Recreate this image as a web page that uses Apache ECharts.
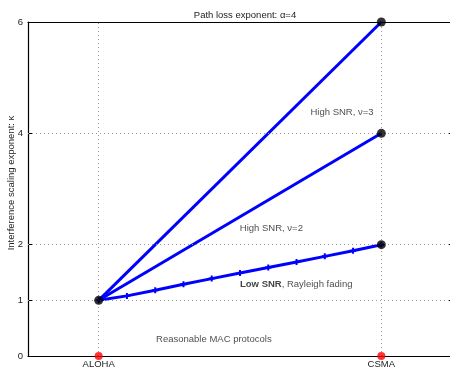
<!DOCTYPE html>
<html><head><meta charset="utf-8">
<script src="https://cdn.jsdelivr.net/npm/echarts@6/dist/echarts.min.js"></script>
<style>html,body{margin:0;padding:0;background:#fff}#c{width:450px;height:369px}</style>
</head><body><div id="c"></div>
<script>
// ---- data ----
const protocols = ['ALOHA', 'CSMA'];
const protocolX = [1, 2];
const yTickValues = [0, 1, 2, 4, 6];
const lineToSix = [[1, 1], [2, 6]];
const lineToFour = [[1, 1], [2, 4]];
const lowSnrX = [1, 1.1, 1.2, 1.3, 1.4, 1.5, 1.6, 1.7, 1.8, 1.9, 2];
const lowSnrY = [1, 1.08, 1.18, 1.29, 1.39, 1.49, 1.59, 1.69, 1.79, 1.89, 2];
const endDots = [[1, 1], [2, 2], [2, 4], [2, 6]];
const macDots = [[1, 0], [2, 0]];
const titleText = 'Path loss exponent: α=4';
const yName = 'Interference scaling exponent: κ';

const FONT = 'Liberation Sans, Arial, Helvetica, sans-serif';
const FS = 9.5;
const chart = echarts.init(document.getElementById('c'), null, {renderer: 'canvas'});
const gridStyle = {color: '#9a9a9a', width: 1, type: [1, 3]};

const option = {
  animation: false,
  backgroundColor: '#fff',
  textStyle: {fontFamily: FONT},
  title: {
    text: titleText, left: 240, top: 5, textAlign: 'center',
    textStyle: {fontSize: FS, fontWeight: 'normal', color: '#222', fontFamily: FONT}
  },
  grid: {left: 28, right: -2, top: 22, bottom: 13, containLabel: false, outerBoundsMode: 'none'},
  xAxis: [{
    type: 'value', min: 0.75, max: 2.25, interval: 0.25, position: 'bottom',
    axisLine: {show: true, onZero: false, lineStyle: {color: '#000', width: 1.2}},
    axisTick: {show: false},
    splitLine: {show: false},
    axisLabel: {
      margin: 3, fontSize: FS, color: '#222', fontFamily: FONT,
      formatter: v => { const i = protocolX.indexOf(v); return i >= 0 ? protocols[i] : ''; }
    }
  }, {
    type: 'value', min: 0.75, max: 2.25, interval: 0.25, position: 'top',
    axisLine: {show: true, onZero: false, lineStyle: {color: '#000', width: 1.2}},
    axisTick: {show: false}, axisLabel: {show: false}, splitLine: {show: false}
  }],
  yAxis: [{
    type: 'value', min: 0, max: 6, interval: 1, position: 'left',
    name: yName, nameLocation: 'middle', nameGap: 12, nameMoveOverlap: false,
    nameTextStyle: {fontSize: FS, color: '#222', fontFamily: FONT, padding: [0, 0, 0, 12]},
    axisLine: {show: true, onZero: false, lineStyle: {color: '#000', width: 1.2}},
    axisTick: {show: true, inside: true, length: 4, customValues: yTickValues, lineStyle: {color: '#000'}},
    axisLabel: {margin: 5, fontSize: FS, color: '#222', fontFamily: FONT, customValues: yTickValues},
    splitLine: {show: false}
  }, {
    type: 'value', min: 0, max: 6, interval: 1, position: 'right',
    axisLine: {show: true, onZero: false, lineStyle: {color: '#000', width: 1.2}},
    axisTick: {show: true, inside: true, length: 4, customValues: yTickValues, lineStyle: {color: '#000'}},
    axisLabel: {show: false}, splitLine: {show: false}
  }],
  series: [
    {
      type: 'line', data: [], z: 1, silent: true,
      markLine: {
        silent: true, symbol: ['none', 'none'], label: {show: false},
        lineStyle: gridStyle, animation: false,
        data: [{yAxis: 1}, {yAxis: 2}, {yAxis: 4}, {xAxis: protocolX[0]}, {xAxis: protocolX[1]}]
      }
    },
    {type: 'line', data: lineToSix, showSymbol: false, z: 3, clip: false,
     lineStyle: {color: '#0000ff', width: 3}},
    {type: 'line', data: lineToFour, showSymbol: false, z: 3, clip: false,
     lineStyle: {color: '#0000ff', width: 3}},
    {type: 'line', data: lowSnrX.map((x, i) => [x, lowSnrY[i]]), z: 3, clip: false,
     symbol: 'path://M2,0H4V2H6V4H4V6H2V4H0V2H2Z', symbolSize: 6, showSymbol: true,
     itemStyle: {color: '#0000ff'},
     lineStyle: {color: '#0000ff', width: 3}},
    {type: 'scatter', data: endDots, symbolSize: 9, z: 5, clip: false,
     itemStyle: {color: '#000'}},
    {type: 'scatter', data: macDots, symbolSize: 8, z: 5, clip: false,
     itemStyle: {color: '#ff0000'}},
    {
      type: 'scatter', symbolSize: 0, z: 6, silent: true, clip: false,
      label: {show: true, fontSize: FS, color: '#222', fontFamily: FONT, position: [0, 0], verticalAlign: 'middle'},
      data: [
        {value: [1.861, 4.38], label: {formatter: 'High SNR, ν=3', align: 'center'}},
        {value: [1.611, 2.30], label: {formatter: 'High SNR, ν=2', align: 'center'}},
        {value: [1.50, 1.293], label: {formatter: '{b|Low SNR}, Rayleigh fading', align: 'left',
          rich: {b: {fontWeight: 'bold', fontSize: FS, color: '#111', fontFamily: FONT}}}},
        {value: [1.203, 0.305], label: {formatter: 'Reasonable MAC protocols', align: 'left'}}
      ]
    }
  ]
};
chart.setOption(option);
</script>
</body></html>
